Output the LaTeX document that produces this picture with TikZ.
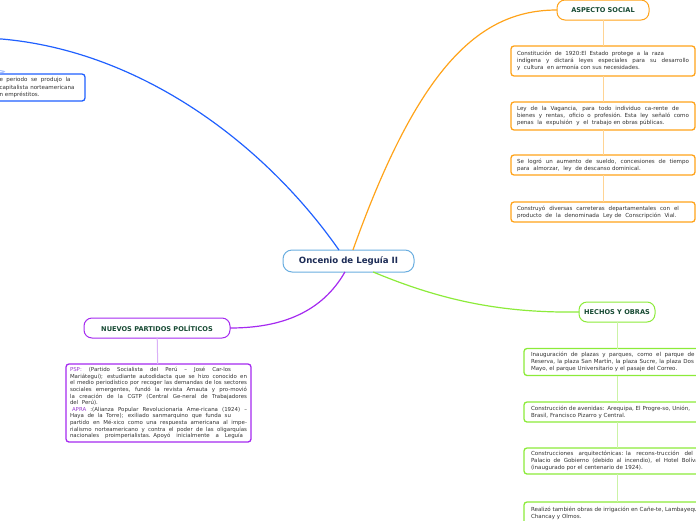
\documentclass[tikz,border=0pt]{standalone}
\usepackage{fontspec}
\setmainfont{DejaVu Sans}
\definecolor{bluec}{HTML}{2060FF}
\definecolor{bluelt}{HTML}{A9C2FF}
\definecolor{orangec}{HTML}{FFA31A}
\definecolor{orangelt}{HTML}{FFD494}
\definecolor{greenc}{HTML}{8CEB3A}
\definecolor{greenlt}{HTML}{CBF3A6}
\definecolor{purplec}{HTML}{A52AF0}
\definecolor{purplelt}{HTML}{DAB0F7}
\definecolor{centralc}{HTML}{6AAEE0}
\definecolor{navyc}{HTML}{1C2B55}
\definecolor{titlec}{HTML}{174A33}
\definecolor{bodyc}{HTML}{333333}
\definecolor{labc}{HTML}{9A3DD0}
\newcommand\jline[1]{\hbox to \hsize{\spaceskip=\fontdimen2\font plus 1fil\relax #1}}
\newcommand\pline[1]{\hbox{#1}}
\newcommand\lines[2]{\noindent\vbox{\hsize=#1\relax #2}}
\tikzset{
  every node/.style={inner sep=0pt, outer sep=0pt},
  body/.style={font=\fontsize{5.55}{7.2}\selectfont, text=bodyc, rounded corners=3pt, line width=1.3pt, fill=white},
  obox/.style={body, draw=orangec, minimum width=184pt, text width=172pt},
  gbox/.style={body, draw=greenc, minimum width=186pt, text width=172pt},
  pbox/.style={body, draw=purplec, minimum width=185pt, text width=177pt, font=\fontsize{5.45}{6.6}\selectfont},
  bbox/.style={body, draw=bluec, minimum width=96pt, text width=75pt},
  titlebox/.style={font=\fontsize{6.6}{7.5}\selectfont\bfseries, text=titlec, rounded corners=8pt, line width=1pt, fill=white, minimum height=20pt},
  mainline/.style={line width=1.2pt},
  sub/.style={line width=1pt},
}
\begin{document}
\begin{tikzpicture}[x=1pt,y=-1pt]
\useasboundingbox (0,0) rectangle (696,520);

% central node
\node[draw=centralc, line width=1pt, rounded corners=9pt, fill=white, minimum width=131pt, minimum height=22pt,
      font=\fontsize{8.6}{9.5}\selectfont\bfseries, text=navyc] (c) at (348.5,261) {Oncenio de Leguía II};

% blue branch (cut off)
\coordinate (bend) at (-5,38.5);
\coordinate (bfeed) at (-5,70);
\node[bbox, minimum height=27pt] (b1) at (37,87.5) {\lines{75pt}{%
\jline{e periodo se produjo la\hspace{4pt}}%
\jline{capitalista norteamericana}%
\pline{n empréstitos.}}};
\draw[bluec, mainline] (c.131) .. controls (262,140) and (135,48) .. (bend);
\draw[bluelt, sub] (bfeed) .. controls (5,71) and (12,72) .. (b1.north west);

% orange branch
\node[titlebox, draw=orangec, minimum width=92pt] (as) at (603,10) {ASPECTO SOCIAL};
\node[obox, minimum height=30pt] (o1) at (603,61) {\lines{172pt}{%
\jline{Constitución de 1920:El Estado protege a la raza\hspace{25pt}}%
\jline{indígena y dictará leyes especiales para su desarrollo}%
\pline{y\ \ cultura\ \ en armonía con sus necesidades.}}};
\node[obox, minimum height=28pt] (o2) at (603,116) {\lines{172pt}{%
\jline{Ley de la Vagancia, para todo individuo ca-rente de\hspace{10pt}}%
\jline{bienes y rentas, oficio o profesión. Esta ley señaló como}%
\pline{penas\ \ la\ \ expulsión\ \ y\ \ el\ \ trabajo en obras públicas.}}};
\node[obox, minimum height=20pt] (o3) at (603,165) {\lines{172pt}{%
\jline{Se logró un aumento de sueldo, concesiones de tiempo}%
\pline{para\ \ almorzar,\ \ ley\ \ de descanso dominical.}}};
\node[obox, minimum height=20pt] (o4) at (603,212) {\lines{172pt}{%
\jline{Construyó diversas carreteras departamentales con el\hspace{10pt}}%
\pline{producto\ \ de\ \ la\ \ denominada\ \ Ley de\ \ Conscripción\ \ Vial.}}};
\draw[orangec, mainline] (c.68) .. controls (420,62) and (482,10) .. (as.west);
\draw[orangelt, sub] (as) -- (o1) (o1) -- (o2) (o2) -- (o3) (o3) -- (o4);

% green branch
\node[titlebox, draw=greenc, minimum width=76pt] (ho) at (617,312) {HECHOS Y OBRAS};
\node[gbox, minimum height=27pt] (g1) at (617,362) {\lines{172pt}{%
\jline{Inauguración de plazas y parques, como el parque de la}%
\jline{Reserva, la plaza San Martín, la plaza Sucre, la plaza Dos de}%
\pline{Mayo, el parque Universitario y el pasaje del Correo.}}};
\node[gbox, minimum height=20pt] (g2) at (617,412) {\lines{172pt}{%
\jline{Construcción de avenidas: Arequipa, El Progre-so, Unión,\hspace{16pt}}%
\pline{Brasil, Francisco Pizarro y Central.}}};
\node[gbox, minimum height=26pt] (g3) at (617,461) {\lines{172pt}{%
\jline{Construcciones arquitectónicas: la recons-trucción del\hspace{10pt}}%
\jline{Palacio de Gobierno (debido al incendio), el Hotel Bolívar\hspace{2pt}}%
\pline{(inaugurado por el centenario de 1924).}}};
\node[gbox, minimum height=22pt] (g4) at (617,513) {\lines{172pt}{%
\jline{Realizó también obras de irrigación en Cañe-te, Lambayeque,\hspace{2pt}}%
\pline{Chancay y Olmos.}}};
\draw[greenc, mainline] (c.-24) .. controls (445,302) and (505,313) .. (ho.west);
\draw[greenlt, sub] (ho) -- (g1) (g1) -- (g2) (g2) -- (g3) (g3) -- (g4);

% purple branch
\node[titlebox, draw=purplec, minimum width=146pt] (np) at (157,328) {NUEVOS PARTIDOS POLÍTICOS};
\node[pbox, minimum height=78pt] (p1) at (158.5,403) {\lines{177pt}{%
\jline{\textcolor{labc}{PSP:}\hspace{7pt}(Partido Socialista del Perú – José Car-los\hspace{16pt}}%
\jline{Mariátegui); estudiante autodidacta que se hizo conocido en}%
\jline{el medio periodístico por recoger las demandas de los sectores}%
\jline{sociales emergentes, fundó la revista Amauta y pro-movió}%
\jline{la creación de la CGTP (Central Ge-neral de Trabajadores}%
\pline{del\ \ Perú).}%
\jline{\hspace{2pt}\textcolor{labc}{APRA} :(Alianza Popular Revolucionaria Ame-ricana (1924) –}%
\jline{Haya de la Torre); exiliado sanmarquino que funda su\hspace{16pt}}%
\jline{partido en Mé-xico como una respuesta americana al impe-}%
\jline{rialismo norteamericano y contra el poder de las oligarquías}%
\jline{nacionales proimperialistas. Apoyó inicialmente a Leguía\hspace{4pt}}}};
\draw[purplec, mainline] (c.-108) .. controls (322,312) and (282,328) .. (np.east);
\draw[purplelt, sub] (np) -- (p1);
\end{tikzpicture}
\end{document}
